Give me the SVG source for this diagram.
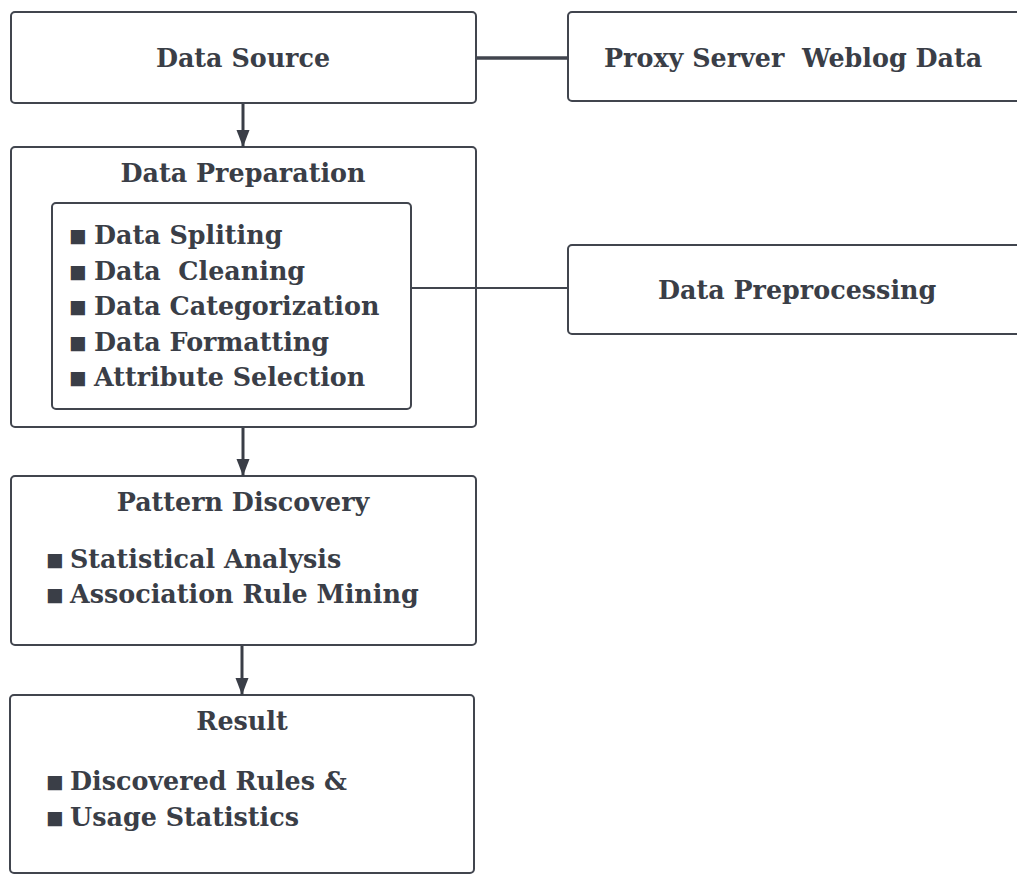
<svg xmlns="http://www.w3.org/2000/svg" width="1017" height="875" viewBox="0 0 1017 875">
  <style>
    .box { fill: #ffffff; stroke: #41454e; stroke-width: 2; }
    .t { font-family: "DejaVu Serif", "Liberation Serif", serif; font-weight: bold; font-size: 25.4px; fill: #3a3e47; white-space: pre; }
    .c { text-anchor: middle; }
    .b { font-family: "DejaVu Sans", sans-serif; font-size: 18.5px; fill: #3a3e47; }
    .flow { stroke: #3a3e47; stroke-width: 3; fill: none; }
    .link { stroke: #41454e; fill: none; }
  </style>
  <defs>
    <marker id="arrow" markerUnits="userSpaceOnUse" markerWidth="17" markerHeight="14" refX="17" refY="6.5" orient="auto">
      <path d="M0,0 L17,6.5 L0,13 Z" fill="#3a3e47"/>
    </marker>
  </defs>
  <rect width="1017" height="875" fill="#ffffff"/>

  <g id="data-source">
    <rect class="box" x="11" y="12" width="465" height="91" rx="4"/>
    <text class="t c" x="243" y="67">Data Source</text>
  </g>

  <g id="proxy-weblog">
    <rect class="box" x="568" y="12" width="460" height="89" rx="4"/>
    <text class="t" x="604" y="67" xml:space="preserve">Proxy Server  Weblog Data</text>
  </g>

  <g id="data-preparation">
    <rect class="box" x="11" y="147" width="465" height="280" rx="4"/>
    <text class="t c" x="243" y="182">Data Preparation</text>
    <g id="preparation-steps">
      <rect class="box" x="52" y="203" width="359" height="206" rx="4"/>
      <text class="b" x="69" y="242">■</text>
      <text class="t" x="94" y="244">Data Spliting</text>
      <text class="b" x="69" y="278">■</text>
      <text class="t" x="94" y="280" xml:space="preserve">Data  Cleaning</text>
      <text class="b" x="69" y="313">■</text>
      <text class="t" x="94" y="315">Data Categorization</text>
      <text class="b" x="69" y="349">■</text>
      <text class="t" x="94" y="351">Data Formatting</text>
      <text class="b" x="69" y="384">■</text>
      <text class="t" x="94" y="386">Attribute Selection</text>
    </g>
  </g>

  <g id="data-preprocessing">
    <rect class="box" x="568" y="245" width="460" height="89" rx="4"/>
    <text class="t" x="658" y="299">Data Preprocessing</text>
  </g>

  <g id="pattern-discovery">
    <rect class="box" x="11" y="476" width="465" height="169" rx="4"/>
    <text class="t c" x="243" y="511">Pattern Discovery</text>
    <text class="b" x="46" y="566">■</text>
    <text class="t" x="70" y="568">Statistical Analysis</text>
    <text class="b" x="46" y="601">■</text>
    <text class="t" x="70" y="603">Association Rule Mining</text>
  </g>

  <g id="result">
    <rect class="box" x="10" y="695" width="464" height="178" rx="4"/>
    <text class="t c" x="242" y="730">Result</text>
    <text class="b" x="46" y="788">■</text>
    <text class="t" x="70" y="790">Discovered Rules &amp;</text>
    <text class="b" x="46" y="824">■</text>
    <text class="t" x="70" y="826">Usage Statistics</text>
  </g>

  <g id="connectors">
    <line class="link" x1="476" y1="58" x2="568" y2="58" stroke-width="3.5"/>
    <line class="link" x1="411" y1="288" x2="568" y2="288" stroke-width="2"/>
    <line class="flow" x1="243" y1="104" x2="243" y2="147" marker-end="url(#arrow)"/>
    <line class="flow" x1="243" y1="428" x2="243" y2="476" marker-end="url(#arrow)"/>
    <line class="flow" x1="242" y1="646" x2="242" y2="695" marker-end="url(#arrow)"/>
  </g>
</svg>
